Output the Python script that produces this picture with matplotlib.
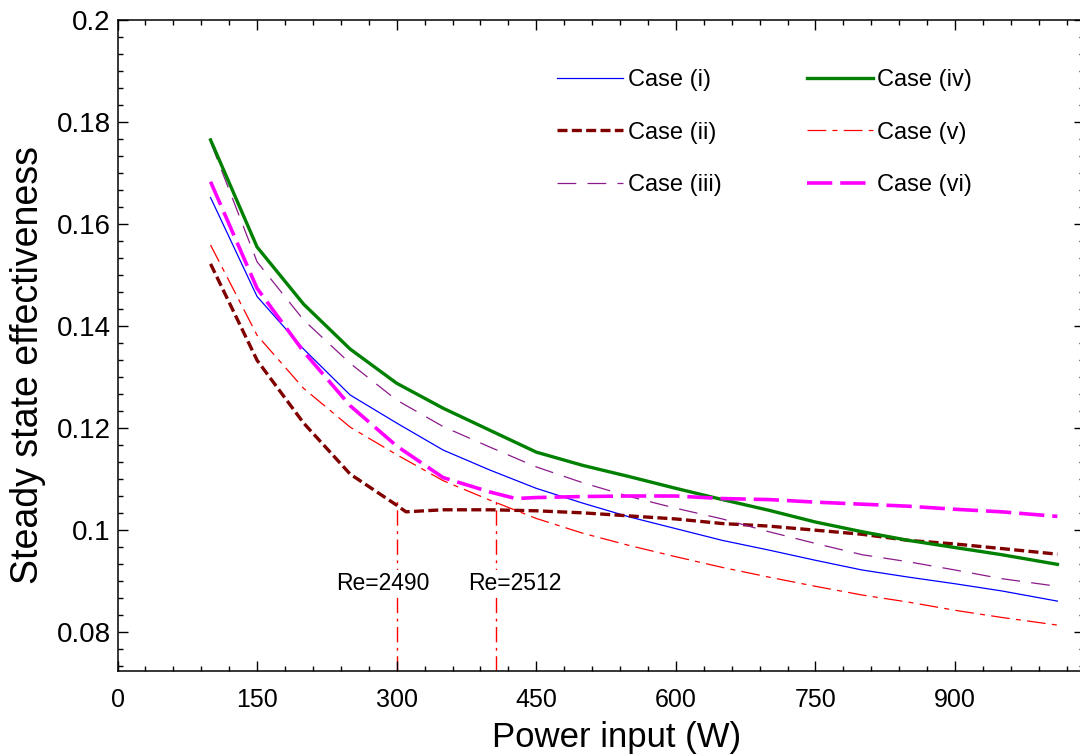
import matplotlib.pyplot as plt
from matplotlib.ticker import MultipleLocator, AutoMinorLocator

plt.rcParams['font.family'] = ['Liberation Sans', 'DejaVu Sans']

# power input (W)
x_main = [100, 150, 200, 250, 300, 350, 400, 450, 500, 550, 600, 650, 700, 750,
          800, 850, 900, 950, 1010]
x_ii = [100, 150, 200, 250, 300, 310, 350, 400, 450, 500, 550, 600, 650, 700, 750,
        800, 850, 900, 950, 1010]
x_vi = [100, 150, 200, 250, 300, 350, 400, 428, 450, 500, 550, 600, 650, 700, 750,
        800, 850, 900, 950, 1010]

# steady state effectiveness
case_i = [0.1652, 0.1458, 0.1355, 0.1265, 0.1210, 0.1157, 0.1118, 0.1082, 0.1053, 0.1026,
          0.1003, 0.0980, 0.0961, 0.0941, 0.0922, 0.0908, 0.0895, 0.0881, 0.0861]
case_ii = [0.1522, 0.1333, 0.1210, 0.1110, 0.1049, 0.1036, 0.1040, 0.1040, 0.1038, 0.1034,
           0.1028, 0.1022, 0.1013, 0.1008, 0.1000, 0.0992, 0.0980, 0.0973, 0.0964, 0.0953]
case_iii = [0.1761, 0.1526, 0.1412, 0.1327, 0.1255, 0.1203, 0.1163, 0.1124, 0.1093, 0.1066,
            0.1043, 0.1022, 0.0997, 0.0974, 0.0952, 0.0938, 0.0922, 0.0905, 0.0890]
case_iv = [0.1765, 0.1555, 0.1443, 0.1355, 0.1288, 0.1239, 0.1196, 0.1153, 0.1127, 0.1105,
           0.1082, 0.1060, 0.1039, 0.1016, 0.0997, 0.0980, 0.0966, 0.0952, 0.0933]
case_v = [0.1559, 0.1382, 0.1278, 0.1202, 0.1148, 0.1097, 0.1059, 0.1023, 0.0994, 0.0970,
          0.0948, 0.0927, 0.0908, 0.0890, 0.0873, 0.0859, 0.0843, 0.0829, 0.0814]
case_vi = [0.1683, 0.1474, 0.1350, 0.1244, 0.1165, 0.1103, 0.1075, 0.1062, 0.1064, 0.1066,
           0.1067, 0.1067, 0.1062, 0.1060, 0.1055, 0.1051, 0.1047, 0.1041, 0.1036, 0.1027]

# transition markers
re_x = [300, 407]
re_top = [0.1059, 0.1065]
re_text = ['Re=2490', 'Re=2512']
re_text_x = [285, 427]
re_text_y = 0.0896

fig = plt.figure(figsize=(10.8, 7.56), dpi=100)
ax = fig.add_axes([117.5/1080, 1-671/756, (1084-117.5)/1080, (671-20)/756])

ax.plot(x_main, case_i, color='#0000ff', lw=0.9, label='Case (i)')
ax.plot(x_ii, case_ii, color='#800000', lw=2.4, ls=(0, (3.0, 1.3)), label='Case (ii)')
ax.plot(x_main, case_iii, color='#8b1a8b', lw=0.9, ls=(0, (15, 9)), label='Case (iii)')
ax.plot(x_main, case_iv, color='#008000', lw=2.4, label='Case (iv)')
ax.plot(x_main, case_v, color='#ff0000', lw=0.9, ls=(0, (15, 5, 4, 5)), label='Case (v)')
ax.plot(x_vi, case_vi, color='#ff00ff', lw=2.6, ls=(0, (7, 2.2)), label='Case (vi)')

ymin, ymax = 0.0724, 0.2
for xv, yt in zip(re_x, re_top):
    ax.plot([xv, xv], [ymin, yt], color='#ff0000', lw=1.0, ls=(0, (11, 4, 2, 4)), zorder=1)
for xt, t in zip(re_text_x, re_text):
    ax.text(xt, re_text_y, t, fontsize=16.5, ha='center', va='center', zorder=5,
            bbox=dict(facecolor='white', edgecolor='none', pad=1))

ax.set_xlim(0, 1038.6)
ax.set_ylim(ymin, ymax)
ax.xaxis.set_major_locator(MultipleLocator(150))
ax.xaxis.set_minor_locator(MultipleLocator(30))
ax.yaxis.set_major_locator(MultipleLocator(0.02))
ax.yaxis.set_minor_locator(AutoMinorLocator(6))
ax.set_yticks([0.08, 0.1, 0.12, 0.14, 0.16, 0.18, 0.2])
ax.set_yticklabels(['0.08', '0.1', '0.12', '0.14', '0.16', '0.18', '0.2'])

ax.tick_params(which='both', direction='in', top=True, right=True, width=1.0)
ax.tick_params(which='major', length=7)
ax.tick_params(which='minor', length=3.5)
ax.tick_params(axis='x', pad=12, labelsize=18)
ax.tick_params(axis='y', pad=5, labelsize=20)
for s in ax.spines.values():
    s.set_linewidth(1.1)

ax.set_xlabel('Power input (W)', fontsize=25)
ax.set_ylabel('Steady state effectiveness', fontsize=27)
ax.xaxis.label.set_va('center')
ax.yaxis.label.set_va('center')
ax.xaxis.set_label_coords((617-117.5)/966.5, (671-737)/651)
ax.yaxis.set_label_coords((28-117.5)/966.5, (671-365)/651)

ax.legend(ncol=2, loc='upper left', bbox_to_anchor=(557/1080, 1-69/756),
          bbox_transform=fig.transFigure, frameon=False, fontsize=17,
          handlelength=2.8, handletextpad=0.2, columnspacing=3.6,
          labelspacing=1.3, borderpad=0, borderaxespad=0)

fig.savefig('out.png', dpi=100)
